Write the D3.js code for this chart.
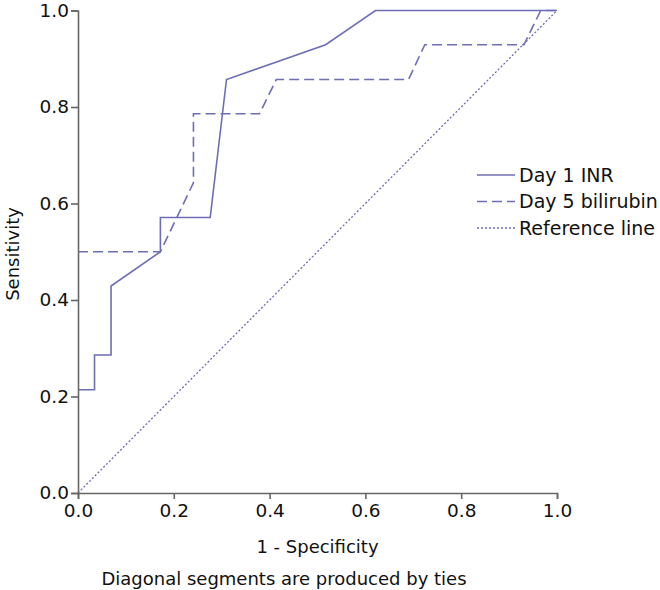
<!DOCTYPE html>
<html>
<head>
<meta charset="utf-8">
<script src="https://cdn.jsdelivr.net/npm/d3@7"></script>
<style>
  body { margin: 0; background: #fff; }
  text { font-family: "DejaVu Sans", sans-serif; fill: #111; }
</style>
</head>
<body>
<div id="chart"></div>
<script>
// ROC curves, x = 1 - specificity, y = sensitivity
// (the vertical piece from 0,0 runs along the y axis and is hidden, so it starts at the first step)
var inrX = [0, 0.0345, 0.0345, 0.069, 0.069, 0.172, 0.172, 0.276, 0.310, 0.517, 0.621, 1];
var inrY = [0.214, 0.214, 0.286, 0.286, 0.429, 0.5, 0.571, 0.571, 0.857, 0.929, 1, 1];

var biliX = [0, 0.172, 0.241, 0.241, 0.379, 0.414, 0.690, 0.724, 0.931, 0.966, 1];
var biliY = [0.5, 0.5, 0.643, 0.786, 0.786, 0.857, 0.857, 0.929, 0.929, 1, 1];

var refX = [0, 1];
var refY = [0, 1];

var ticks = [0, 0.2, 0.4, 0.6, 0.8, 1.0];
var seriesNames = ["Day 1 INR", "Day 5 bilirubin", "Reference line"];
var dashes = [null, "10,5", "2,2"];

var lineColor = "#6e6eb4";
var axisColor = "#666";

var svg = d3.select("#chart")
  .append("svg")
    .attr("width", 660)
    .attr("height", 590);

var x = d3.scaleLinear()
  .domain([0, 1])
  .range([78, 557]);

var y = d3.scaleLinear()
  .domain([0, 1])
  .range([493, 10.5]);

var line = d3.line()
  .x(function(d) { return x(d[0]); })
  .y(function(d) { return y(d[1]); });

var series = [
  d3.zip(inrX, inrY),
  d3.zip(biliX, biliY),
  d3.zip(refX, refY)
];

svg.append("g")
  .selectAll("path")
  .data(series)
  .enter()
  .append("path")
    .attr("d", line)
    .attr("fill", "none")
    .attr("stroke", lineColor)
    .attr("stroke-width", function(d, i) { return i == 2 ? 1.3 : 1.6; })
    .attr("stroke-dasharray", function(d, i) { return dashes[i]; });

var xAxis = svg.append("g")
  .attr("transform", "translate(0," + y(0) + ")")
  .call(d3.axisBottom(x).tickValues(ticks).tickFormat(d3.format(".1f")).tickSizeOuter(0).tickSize(6).tickPadding(5));

var yAxis = svg.append("g")
  .attr("transform", "translate(" + x(0) + ",0)")
  .call(d3.axisLeft(y).tickValues(ticks).tickFormat(d3.format(".1f")).tickSizeOuter(0).tickSize(7).tickPadding(2));

[xAxis, yAxis].forEach(function(a) {
  a.select(".domain").attr("stroke", axisColor).attr("stroke-width", 1.6);
  a.selectAll(".tick line").attr("stroke", axisColor).attr("stroke-width", 1.6);
  a.selectAll(".tick text")
    .style("font-size", "18.5px")
    .style("font-family", "'DejaVu Sans', sans-serif")
    .attr("fill", "#111");
});

svg.append("text")
  .attr("x", (x(0) + x(1)) / 2)
  .attr("y", 553)
  .attr("text-anchor", "middle")
  .style("font-size", "18px")
  .text("1 - Specificity");

svg.append("text")
  .attr("x", 284)
  .attr("y", 585)
  .attr("text-anchor", "middle")
  .style("font-size", "18px")
  .text("Diagonal segments are produced by ties");

svg.append("text")
  .attr("transform", "translate(19," + 254 + ") rotate(-90)")
  .attr("text-anchor", "middle")
  .style("font-size", "18px")
  .text("Sensitivity");

// legend
var legend = svg.append("g")
  .selectAll("g")
  .data(seriesNames)
  .enter()
  .append("g")
    .attr("transform", function(d, i) { return "translate(477," + (175 + i * 26.5) + ")"; });

legend.append("line")
  .attr("x1", 0)
  .attr("x2", 38)
  .attr("stroke", lineColor)
  .attr("stroke-width", function(d, i) { return i == 2 ? 1.3 : 1.6; })
  .attr("stroke-dasharray", function(d, i) { return dashes[i]; });

legend.append("text")
  .attr("x", 42)
  .attr("dy", "0.35em")
  .style("font-size", "19px")
  .text(function(d) { return d; });
</script>
</body>
</html>
